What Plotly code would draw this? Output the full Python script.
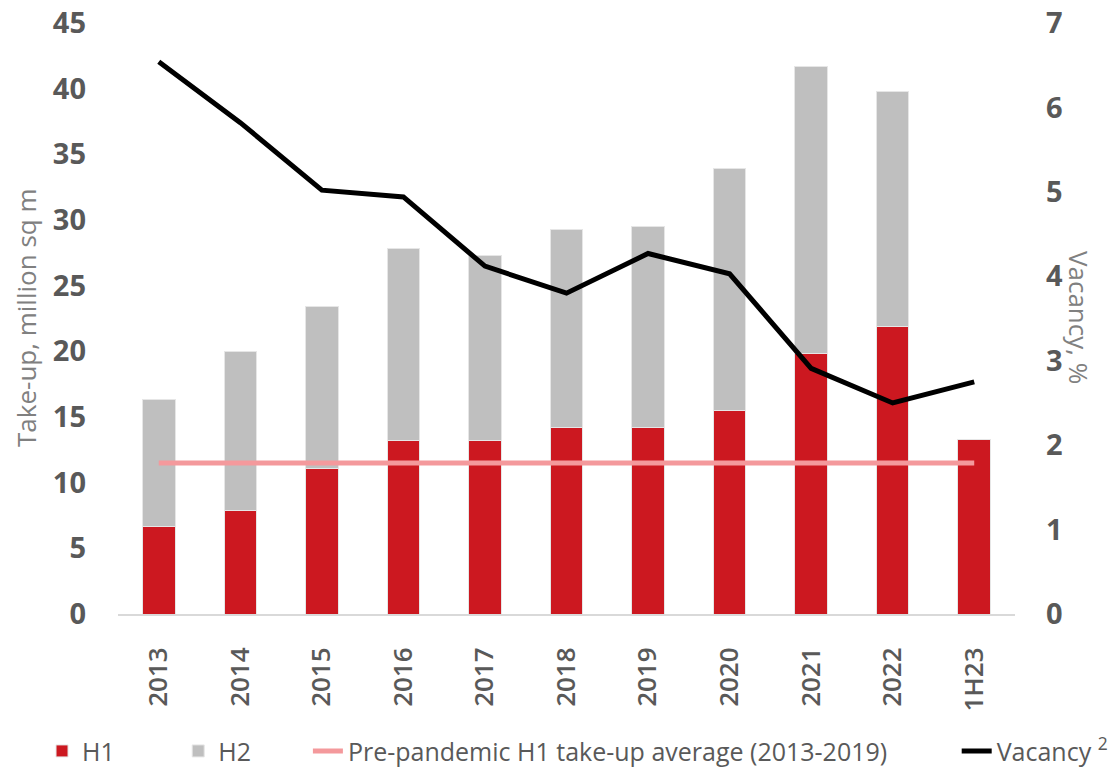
import plotly.graph_objects as go

categories = ["2013", "2014", "2015", "2016", "2017", "2018", "2019", "2020", "2021", "2022", "1H23"]
h1 = [6.7, 7.9, 11.1, 13.2, 13.2, 14.2, 14.2, 15.5, 19.8, 21.9, 13.3]
h2 = [9.6, 12.1, 12.3, 14.6, 14.1, 15.1, 15.3, 18.4, 21.9, 17.9, None]
pre_pandemic_avg = [11.5] * 11
vacancy = [6.54, 5.82, 5.02, 4.94, 4.12, 3.80, 4.27, 4.03, 2.91, 2.50, 2.75]

RED = "#CC1820"
GREY = "#BFBFBF"
PINK = "#F4999C"
TXT = "#595959"
TTL = "#808080"
NB = "\u00a0"

fig = go.Figure()
fig.add_trace(go.Bar(x=categories, y=h1, name="H1" + NB * 9, legend="legend",
                     marker=dict(color=RED, line=dict(color="#E6E6E6", width=1))))
fig.add_trace(go.Bar(x=categories, y=h2, name="H2" + NB * 8, legend="legend",
                     marker=dict(color=GREY, line=dict(color="#E6E6E6", width=1))))
fig.add_trace(go.Scatter(x=categories, y=pre_pandemic_avg, mode="lines", legend="legend",
                         name="Pre-pandemic H1 take-up average (2013-2019)",
                         line=dict(color=PINK, width=5)))
fig.add_trace(go.Scatter(x=categories, y=vacancy, mode="lines", name="Vacancy <sup>2</sup>",
                         legend="legend2", line=dict(color="black", width=5), yaxis="y2"))

legend_font = dict(family="Open Sans", size=25, color=TXT)

fig.update_layout(
    width=1117, height=771,
    margin=dict(l=118, r=102, t=23, b=157, autoexpand=False),
    paper_bgcolor="white", plot_bgcolor="white",
    barmode="stack", bargap=0.6,
    font=dict(family="Open Sans", color=TXT),
    showlegend=True,
    legend=dict(orientation="h", x=-0.0847, xanchor="left", y=-0.271, yanchor="bottom",
                font=legend_font, traceorder="normal", itemwidth=30),
    legend2=dict(orientation="h", x=0.935, xanchor="left", y=-0.271, yanchor="bottom",
                 font=legend_font, itemwidth=30),
    xaxis=dict(type="category", showline=True, linecolor="#D9D9D9", linewidth=2,
               ticks="", tickangle=-90, showgrid=False, automargin=False,
               tickfont=dict(family="Open Sans", size=26, color=TXT, weight=600),
               ticklabelstandoff=21),
    yaxis=dict(range=[0, 45], dtick=5, showgrid=False, zeroline=False, showline=False,
               automargin=False,
               tickfont=dict(family="Open Sans", size=29, color=TXT, weight="bold"),
               ticklabelstandoff=31),
    yaxis2=dict(range=[0, 7], dtick=1, overlaying="y", side="right", showgrid=False,
                zeroline=False, showline=False, automargin=False,
                tickfont=dict(family="Open Sans", size=29, color=TXT, weight="bold"),
                ticklabelstandoff=30),
    annotations=[
        dict(text="Take-up, million sq m", xref="paper", yref="paper", x=-0.1026, y=0.5025,
             xanchor="center", yanchor="middle", textangle=-90, showarrow=False,
             font=dict(family="Open Sans", size=26, color=TTL)),
        dict(text="Vacancy, %", xref="paper", yref="paper", x=1.0714, y=0.5025,
             xanchor="center", yanchor="middle", textangle=90, showarrow=False,
             font=dict(family="Open Sans", size=26, color=TTL)),
    ],
)

fig.write_html("out.html", config={"displayModeBar": False},
               post_script="document.body.style.margin='0';")
